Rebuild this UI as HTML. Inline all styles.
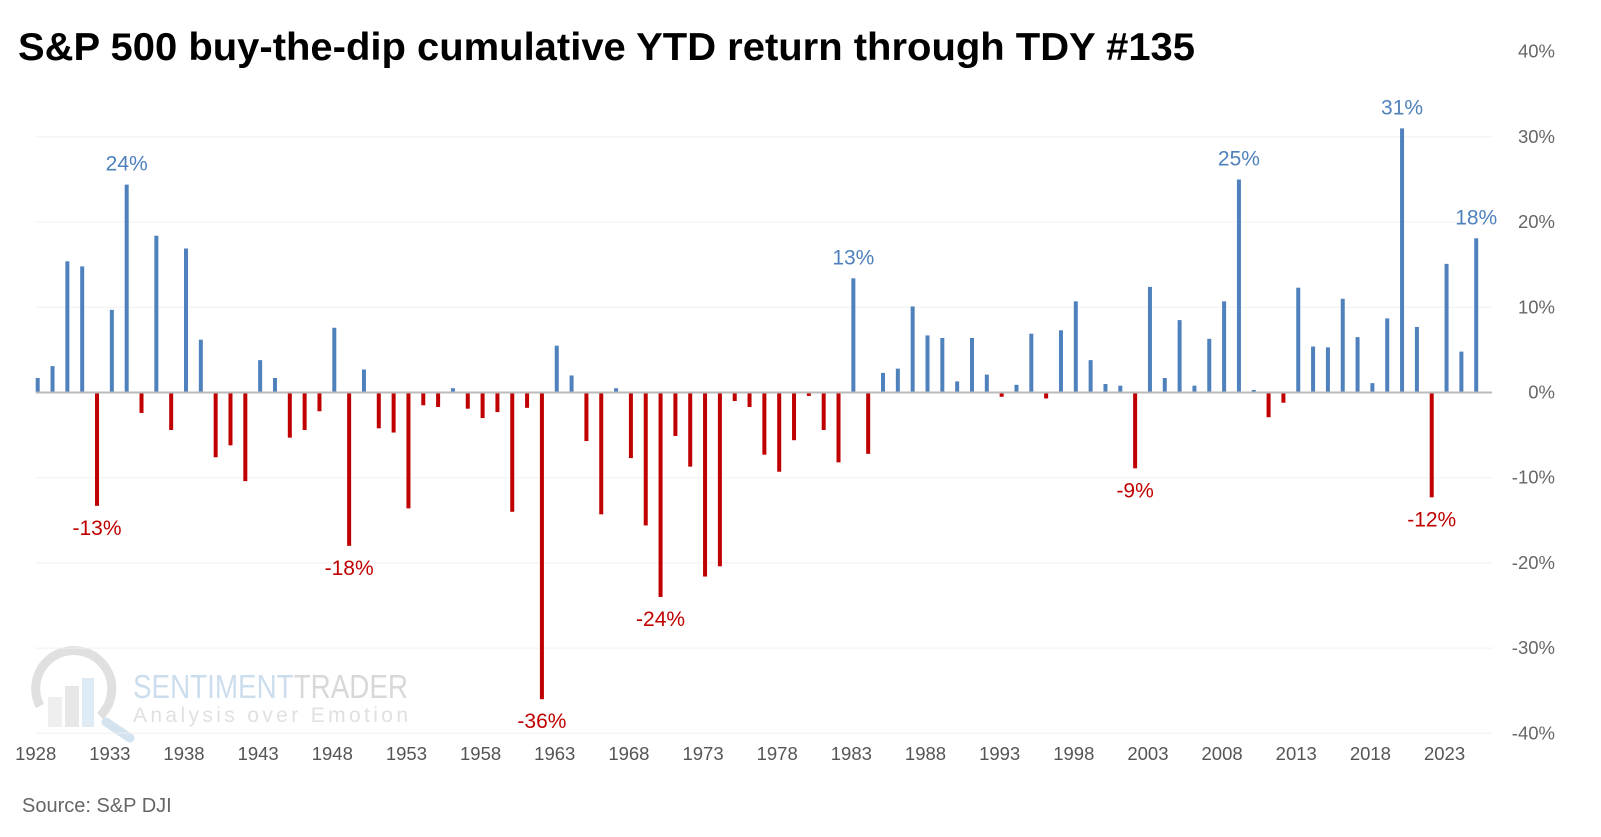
<!DOCTYPE html>
<html><head><meta charset="utf-8"><style>
body{margin:0;background:#fff;}
svg{display:block;font-family:"Liberation Sans",Arial,sans-serif;}
</style></head><body>
<svg id="chart" width="1601" height="837" viewBox="0 0 1601 837" xmlns="http://www.w3.org/2000/svg">
<text x="18" y="60" font-size="39" font-weight="bold" fill="#000" textLength="1177" lengthAdjust="spacingAndGlyphs">S&amp;P 500 buy-the-dip cumulative YTD return through TDY #135</text>
<g opacity="0.45">
<path d="M40,706 A38,38 0 1 1 100,716" fill="none" stroke="#bbb" stroke-width="9"/>
<rect x="48" y="697" width="14" height="30" fill="#ddd"/>
<rect x="65" y="686" width="14" height="41" fill="#ccc"/>
<rect x="82" y="678" width="12" height="49" fill="#b8d3e8"/>
<line x1="106" y1="722" x2="130" y2="738" stroke="#9fc3df" stroke-width="9" stroke-linecap="round"/>
<text x="133" y="698" font-size="33" fill="#8fb4d9" textLength="275" lengthAdjust="spacingAndGlyphs">SENTIMENT<tspan fill="#aaa">TRADER</tspan></text>
<text x="133" y="722" font-size="21" fill="#bbb" textLength="275" lengthAdjust="spacing">Analysis over Emotion</text>
</g>
<g id="grid"></g>
<g id="yaxis"></g>
<g id="bars"></g>
<g id="labels"></g>
<g id="xaxis"></g>
<text x="22" y="812" font-size="20" fill="#666">Source: S&amp;P DJI</text>
</svg>
<script>
const startYear = 1928;
const values = [1.7,3.1,15.4,14.8,-13.3,9.7,24.4,-2.4,18.4,-4.4,16.9,6.2,-7.6,-6.2,-10.4,3.8,1.7,-5.3,-4.4,-2.2,7.6,-18.0,2.7,-4.2,-4.7,-13.6,-1.5,-1.7,0.5,-1.9,-3.0,-2.3,-14.0,-1.8,-36.0,5.5,2.0,-5.7,-14.3,0.5,-7.7,-15.6,-24.0,-5.1,-8.7,-21.6,-20.4,-1.0,-1.7,-7.3,-9.3,-5.6,-0.4,-4.4,-8.2,13.4,-7.2,2.3,2.8,10.1,6.7,6.4,1.3,6.4,2.1,-0.5,0.9,6.9,-0.7,7.3,10.7,3.8,1.0,0.8,-8.9,12.4,1.7,8.5,0.8,6.3,10.7,25.0,0.3,-2.9,-1.2,12.3,5.4,5.3,11.0,6.5,1.1,8.7,31.0,7.7,-12.3,15.1,4.8,18.1];
const labeledYears = [1932,1934,1949,1962,1970,1983,2002,2009,2020,2022,2025];
const yTicks = [40,30,20,10,0,-10,-20,-30,-40];
const xTickYears = [1928,1933,1938,1943,1948,1953,1958,1963,1968,1973,1978,1983,1988,1993,1998,2003,2008,2013,2018,2023];
const NS='http://www.w3.org/2000/svg';
const x0=37.7, step=14.83, y0=392.5, pxPer=8.52;
const xs = i => x0 + i*step;
const ys = v => y0 - v*pxPer;
function mk(t,a,p){const e=document.createElementNS(NS,t);for(const k in a)e.setAttribute(k,a[k]);p.appendChild(e);return e;}
const grid=document.getElementById('grid'), ya=document.getElementById('yaxis');
yTicks.forEach(t=>{
  if(t!==0 && t!==40){const l=mk('line',{x1:36,x2:1492,y1:ys(t),y2:ys(t),stroke:'#f0f0f0','stroke-width':1},grid);
  
  }
  const tx=mk('text',{x:1555,y:ys(t)+6,'text-anchor':'end','font-size':18.5,fill:'#666'},ya);
  tx.textContent=t+'%';
  
  
});
const bars=document.getElementById('bars'), labels=document.getElementById('labels');
values.forEach((v,i)=>{
  const x=xs(i), y=v>=0?ys(v):y0, h=Math.abs(v)*pxPer;
  const r=mk('rect',{x:x-2,y:y,width:4,height:Math.max(h,1),fill:v>=0?'#4f81bd':'#c00000'},bars);
  
  
  if(labeledYears.includes(startYear+i)){
    const t=mk('text',{x:x,y:v>=0?ys(v)-14:ys(v)+29,'text-anchor':'middle','font-size':21,fill:v>=0?'#4f81bd':'#c00000'},labels);
    t.textContent=Math.round(v)+'%';
    
    
  }
});
const base=mk('line',{x1:36,x2:1492,y1:y0,y2:y0,stroke:'#bbb','stroke-width':2},bars);


const xa=document.getElementById('xaxis');
xTickYears.forEach(yr=>{
  const t=mk('text',{x:xs(yr-startYear)-2,y:760,'text-anchor':'middle','font-size':18.5,fill:'#555'},xa);
  t.textContent=yr;
  
  
});
</script>
</body></html>
